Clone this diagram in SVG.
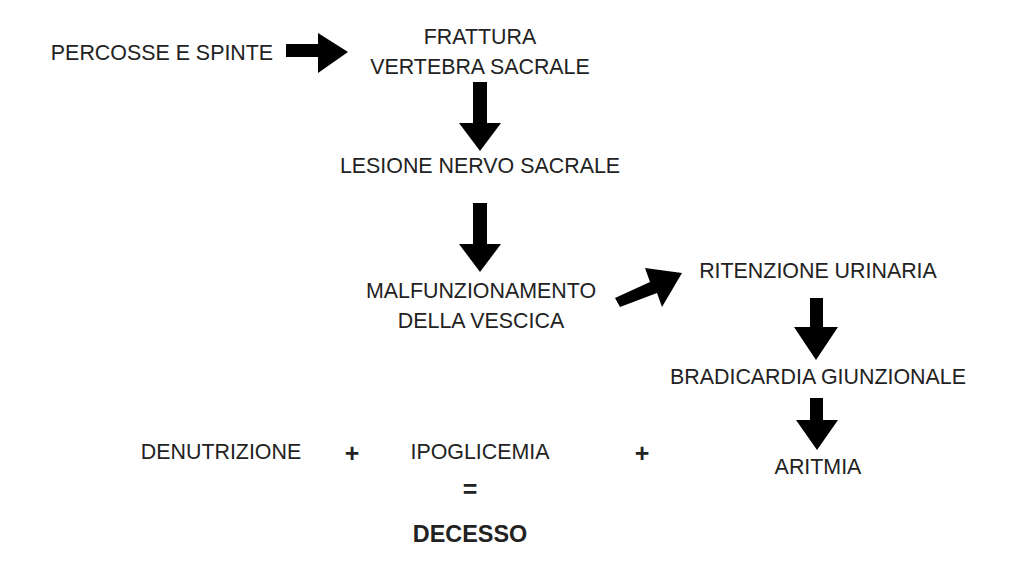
<svg xmlns="http://www.w3.org/2000/svg" width="1024" height="576" viewBox="0 0 1024 576">
<style>
text{font-family:"Liberation Sans",Arial,sans-serif;font-size:21.4px;fill:#222;text-anchor:middle}
.b{font-weight:bold;font-size:23.4px}
.op{font-weight:bold;font-size:25px}
.arr{fill:#000}
</style>
<rect width="1024" height="576" fill="#fff"/>
<g id="connectors">
<polygon class="arr" points="286,44 318,44 318,33 348,52 318,73 318,57 286,57"/>
<polygon class="arr" points="473,82 487,82 487,123 501,123 480,151 459,123 473,123"/>
<polygon class="arr" points="473,203 487,203 487,244 501,244 480,272 459,244 473,244"/>
<polygon class="arr" points="615,298 650,282 645,268 682,273 662,307 657,293 620,307"/>
<polygon class="arr" points="810,298 823,298 823,327 838,327 816,360 794,327 810,327"/>
<polygon class="arr" points="810,398 823,398 823,420 838,420 817,450 796,420 810,420"/>
</g>
<g id="percosse"><text x="162" y="60">PERCOSSE E SPINTE</text></g>
<g id="frattura"><text x="480" y="44">FRATTURA</text><text x="480" y="74">VERTEBRA SACRALE</text></g>
<g id="lesione"><text x="480" y="173">LESIONE NERVO SACRALE</text></g>
<g id="malfunzionamento"><text x="481" y="298">MALFUNZIONAMENTO</text><text x="481" y="328">DELLA VESCICA</text></g>
<g id="ritenzione"><text x="818" y="278">RITENZIONE URINARIA</text></g>
<g id="bradicardia"><text x="818" y="384">BRADICARDIA GIUNZIONALE</text></g>
<g id="aritmia"><text x="818" y="474">ARITMIA</text></g>
<g id="denutrizione"><text x="221" y="459">DENUTRIZIONE</text></g>
<g id="plus1"><text class="op" x="352" y="462">+</text></g>
<g id="ipoglicemia"><text x="480" y="459">IPOGLICEMIA</text></g>
<g id="plus2"><text class="op" x="642" y="462">+</text></g>
<g id="equals"><text class="op" x="470" y="498">=</text></g>
<g id="decesso"><text class="b" x="470" y="542">DECESSO</text></g>
</svg>
